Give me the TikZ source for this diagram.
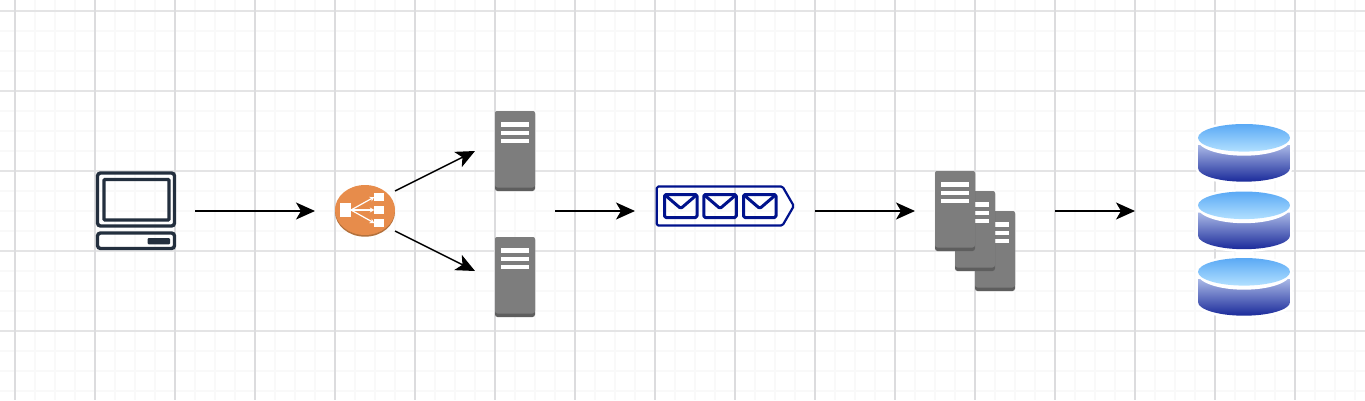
\documentclass[tikz,border=0pt]{standalone}
\usetikzlibrary{arrows.meta}

\definecolor{gridmajor}{HTML}{E4E4E5}
\definecolor{gridupright}{HTML}{DCDCDE}
\definecolor{gridminor}{HTML}{F9F9F9}
\definecolor{clientink}{HTML}{232F3E}
\definecolor{servergray}{HTML}{7D7D7D}
\definecolor{serverdark}{HTML}{5E5E5E}
\definecolor{lborange}{HTML}{E78C4B}
\definecolor{lbdark}{HTML}{B3713C}
\definecolor{queueblue}{HTML}{00128C}
\definecolor{disktop}{HTML}{5AA9F5}
\definecolor{disklight}{HTML}{B2E0FF}
\definecolor{bodytop}{HTML}{A9B8E6}
\definecolor{bodybottom}{HTML}{1A2A9A}

\tikzset{
	iconbox/.style={inner sep=0pt, outer sep=0pt},
	flow/.style={-{Stealth[length=19pt, width=17pt, inset=5pt]}, line width=1.4pt, black},
	gapflow/.style={flow, shorten <=20pt, shorten >=20pt},
	serverline/.style={fill=white, draw=none},
	envelope/.style={queueblue, line width=3pt, rounded corners=1.5pt, line join=round},
}

% one server, top left corner at #1,#2
\newcommand{\serverbox}[2]{
	\begin{scope}[shift={(#1,#2)}]
		\fill [serverdark, rounded corners=2.5pt] (0,0) rectangle (40,80);
		\fill [servergray, rounded corners=2.5pt] (0,0) rectangle (40,76.5);
		\fill [serverline] (6,11.3) rectangle (33.7,16);
		\fill [serverline] (6,19.7) rectangle (33.7,24);
		\fill [serverline] (6,27.7) rectangle (33.7,32.3);
	\end{scope}
}
% one envelope, left edge at #1
\newcommand{\envelopebox}[1]{
	\begin{scope}[shift={(#1,0)}]
		\draw [envelope] (0,194.5) rectangle (32.5,217.5);
		\draw [envelope] (0.5,195) -- (16.25,208.5) -- (32,195);
	\end{scope}
}
% one disk, shifted down by #1
\newcommand{\diskbox}[1]{
	\begin{scope}[shift={(0,#1)}]
		\draw [white, fill=white, line width=5pt, line join=round] (1198,138) arc [start angle=180, end angle=360, x radius=46, y radius=14] -- (1290,168) arc [start angle=0, end angle=180, x radius=46, y radius=14] -- cycle;
		\shade [top color=bodytop, bottom color=bodybottom] (1198,145) -- (1290,145) -- (1290,168) arc [start angle=0, end angle=180, x radius=46, y radius=13.7] -- cycle;
		\fill [white] (1244,139.5) ellipse [x radius=46.5, y radius=16.2];
		\shade [top color=disktop, bottom color=disklight] (1244,137.8) ellipse [x radius=46, y radius=13.8];
	\end{scope}
}

\begin{document}
\begin{tikzpicture}[x=1pt, y=-1pt]
	\useasboundingbox (0,0) rectangle (1365,400);
	\fill [white] (0,0) rectangle (1365,400);
	% grid
	\foreach \gx in {35,55,75,115,135,155} {
		\foreach \gk in {-1,...,16} {
			\draw [gridminor, line width=1.8pt] ({\gx+80*\gk},0) -- ({\gx+80*\gk},400);
		}
	}
	\foreach \gy in {31,51,71,111,131,151,191,211,231,271,291,311,351,371,391} {
		\draw [gridminor, line width=1.8pt] (0,\gy) -- (1365,\gy);
	}
	\foreach \gy in {11,91,171,251,331} {
		\draw [gridmajor, line width=1.6pt] (0,\gy) -- (1365,\gy);
	}
	\foreach \gk in {0,...,16} {
		\draw [gridupright, line width=1.6pt] ({15+80*\gk},0) -- ({15+80*\gk},400);
	}
	% icon places
	\node [iconbox, minimum width=78pt, minimum height=78pt] (client) at (136,211) {};
	\node [iconbox, minimum width=60pt, minimum height=40pt] (balancer) at (365,211) {};
	\node [iconbox, minimum width=40pt, minimum height=80pt] (webtop) at (515,151) {};
	\node [iconbox, minimum width=40pt, minimum height=80pt] (webbottom) at (515,277) {};
	\node [iconbox, minimum width=40pt, minimum height=40pt] (webpair) at (515,211) {};
	\node [iconbox, minimum width=140pt, minimum height=40pt] (queue) at (725,211) {};
	\node [iconbox, minimum width=80pt, minimum height=120pt] (workers) at (975,211) {};
	\node [iconbox, minimum width=92pt, minimum height=192pt] (disks) at (1244,211) {};
	\coordinate (webtopin) at (475,151);
	\coordinate (webbottomin) at (475,271);
	% client
	\draw [clientink, line width=3.4pt, rounded corners=3pt] (97.5,173) rectangle (174.5,226);
	\draw [clientink, line width=3.4pt, rounded corners=1pt] (104,179.5) rectangle (169,220);
	\draw [clientink, line width=3.4pt, rounded corners=3pt] (97.5,233) rectangle (174.5,248.5);
	\fill [clientink, rounded corners=1pt] (147.7,238) rectangle (170,244.3);
	% balancer
	\fill [lbdark] (365,211.7) ellipse [x radius=30, y radius=25];
	\fill [lborange] (365,210) ellipse [x radius=30, y radius=25];
	\fill [white] (340,202.7) rectangle (351,217.3);
	\fill [white] (374.3,192.7) rectangle (384.3,200.7);
	\fill [white] (374.3,206) rectangle (384.3,214.3);
	\fill [white] (374.3,219) rectangle (384.3,227.3);
	\draw [white, line width=1.2pt, -{Stealth[length=4.5pt, width=5pt]}] (351,210) -- (374.3,197);
	\draw [white, line width=1.2pt, -{Stealth[length=4.5pt, width=5pt]}] (351,210) -- (374.3,210);
	\draw [white, line width=1.2pt, -{Stealth[length=4.5pt, width=5pt]}] (351,210) -- (374.3,223);
	% servers
	\serverbox{495}{111}
	\serverbox{495}{237}
	% queue
	\draw [queueblue, line width=2.2pt, line join=round, rounded corners=1.5pt] (656.8,186.5) -- (782.5,186.5) -- (793.8,206) -- (782.5,225.5) -- (656.8,225.5) -- cycle;
	\envelopebox{664.5}
	\envelopebox{703.8}
	\envelopebox{743.5}
	% workers
	\serverbox{975}{211}
	\serverbox{955}{191}
	\serverbox{935}{171}
	% disks
	\diskbox{0}
	\diskbox{67.5}
	\diskbox{134}
	% arrows
	\draw [gapflow] (client.east) -- (balancer.west);
	\draw [flow] (balancer.north east) -- (webtopin);
	\draw [flow] (balancer.south east) -- (webbottomin);
	\draw [gapflow] (webpair.east) -- (queue.west);
	\draw [gapflow] (queue.east) -- (workers.west);
	\draw [flow, shorten <=40pt, shorten >=63pt] (workers.east) -- (disks.west);
\end{tikzpicture}
\end{document}
